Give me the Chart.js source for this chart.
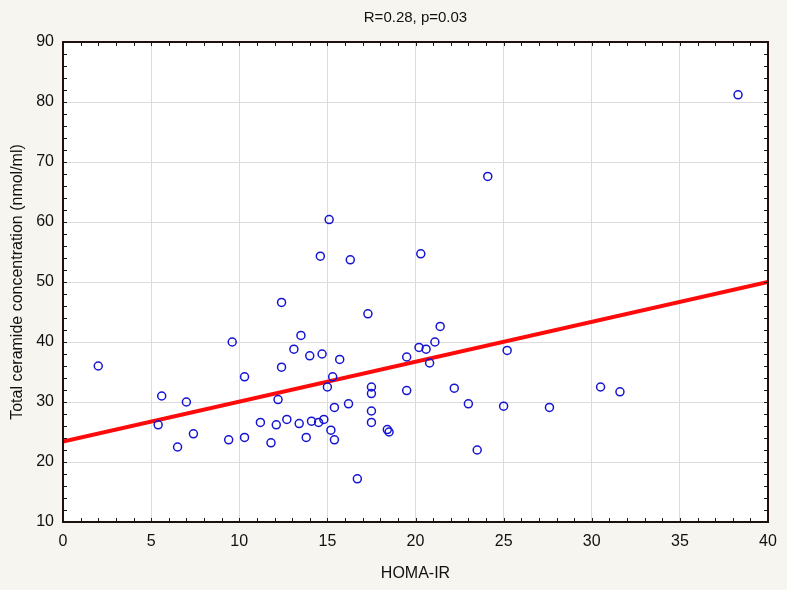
<!DOCTYPE html>
<html>
<head>
<meta charset="utf-8">
<script src="https://cdn.jsdelivr.net/npm/chart.js@4"></script>
<style>
  html, body { margin: 0; padding: 0; background: #f7f5ef; }
  #wrap { width: 787px; height: 590px; }
</style>
</head>
<body>
<div id="wrap"><canvas id="chart" width="787" height="590"></canvas></div>
<script>
const TITLE = 'R=0.28, p=0.03';
const X_LABEL = 'HOMA-IR';
const Y_LABEL = 'Total ceramide concentration (nmol/ml)';

// HOMA-IR values
const homaIR = [
  2.0, 5.6, 5.4, 7.0, 7.4, 6.5, 9.6, 10.3, 9.4, 10.3,
  12.4, 13.5, 13.1, 12.4, 12.2, 11.2, 12.1, 12.7, 13.4, 11.8,
  13.8, 14.0, 14.7, 15.7, 15.3, 15.0, 14.1, 14.5, 14.8, 15.2,
  15.4, 15.4, 16.2, 15.1, 14.6, 16.3, 17.3, 17.5, 17.5, 17.5,
  17.5, 18.4, 18.5, 16.7, 19.5, 19.5, 20.2, 20.6, 20.8, 21.1,
  21.4, 20.3, 24.1, 22.2, 23.0, 23.5, 25.0, 25.2, 27.6, 30.5,
  31.6, 38.3
];
// total ceramide (nmol/ml) for the same subjects
const ceramide = [
  36.0, 31.0, 26.2, 30.0, 24.7, 22.5, 40.0, 34.2, 23.7, 24.1,
  46.6, 41.1, 38.8, 35.8, 30.4, 26.6, 26.2, 27.1, 26.4, 23.2,
  24.1, 37.7, 38.0, 37.1, 34.2, 32.5, 26.8, 26.6, 27.1, 25.3,
  23.7, 29.1, 29.7, 60.4, 54.3, 53.7, 44.7, 32.5, 31.4, 28.5,
  26.6, 25.4, 25.0, 17.2, 37.5, 31.9, 39.1, 38.8, 36.5, 40.0,
  42.6, 54.7, 67.6, 32.3, 29.7, 22.0, 29.3, 38.6, 29.1, 32.5,
  31.7, 81.2
];
// fitted regression line end points
const fitX = [0, 40];
const fitY = [23.4, 50.0];

const xTicks = [0, 5, 10, 15, 20, 25, 30, 35, 40];
const yTicks = [10, 20, 30, 40, 50, 60, 70, 80, 90];

const FONT = 'Liberation Sans, Arial, sans-serif';

const framePlugin = {
  id: 'frame',
  beforeDraw(chart) {
    const { ctx, chartArea: a } = chart;
    ctx.save();
    ctx.fillStyle = '#f7f5ef';
    ctx.fillRect(0, 0, chart.width, chart.height);
    ctx.fillStyle = '#ffffff';
    ctx.fillRect(a.left, a.top, a.right - a.left, a.bottom - a.top);
    ctx.restore();
  },
  afterDraw(chart) {
    const { ctx, chartArea: a, scales } = chart;
    const xs = scales.x, ys = scales.y;
    ctx.save();
    ctx.strokeStyle = '#1a1a1a';
    ctx.lineWidth = 1;
    // minor ticks, inside the frame
    ctx.beginPath();
    for (let v = 0; v <= 40; v += 1) {
      const px = Math.round(xs.getPixelForValue(v)) + 0.5;
      ctx.moveTo(px, a.bottom); ctx.lineTo(px, a.bottom - 4);
      ctx.moveTo(px, a.top); ctx.lineTo(px, a.top + 4);
    }
    for (let v = 10; v <= 90; v += 2) {
      const py = Math.round(ys.getPixelForValue(v)) + 0.5;
      ctx.moveTo(a.left, py); ctx.lineTo(a.left + 4, py);
      ctx.moveTo(a.right, py); ctx.lineTo(a.right - 4, py);
    }
    ctx.stroke();
    ctx.lineWidth = 2;
    ctx.strokeStyle = '#1f1010';
    ctx.strokeRect(a.left, a.top, a.right - a.left, a.bottom - a.top);
    // title
    ctx.fillStyle = '#111';
    ctx.font = '15px ' + FONT;
    ctx.textAlign = 'center';
    ctx.textBaseline = 'middle';
    ctx.fillText(TITLE, (a.left + a.right) / 2, 18);
    ctx.restore();
  }
};

new Chart(document.getElementById('chart'), {
  type: 'scatter',
  data: {
    datasets: [
      {
        label: 'data',
        data: homaIR.map((x, i) => ({ x: x, y: ceramide[i] })),
        pointStyle: 'circle',
        pointRadius: 4,
        pointHoverRadius: 4,
        borderColor: '#1414d2',
        backgroundColor: 'rgba(0,0,0,0)',
        borderWidth: 1.5
      },
      {
        type: 'line',
        label: 'fit',
        data: fitX.map((x, i) => ({ x: x, y: fitY[i] })),
        borderColor: '#ff0a0a',
        borderWidth: 4,
        pointRadius: 0,
        fill: false
      }
    ]
  },
  options: {
    responsive: false,
    animation: false,
    layout: { padding: { top: 42, right: 19, left: 0, bottom: 0 } },
    plugins: {
      legend: { display: false },
      tooltip: { enabled: false }
    },
    scales: {
      x: {
        type: 'linear',
        min: 0, max: 40,
        afterBuildTicks: s => { s.ticks = xTicks.map(v => ({ value: v })); },
        afterFit: s => { s.height = 68; },
        grid: { color: '#dcdcdc', lineWidth: 1, drawTicks: false },
        border: { display: false },
        ticks: { color: '#111', padding: 10, font: { family: FONT, size: 16 } },
        title: { display: true, text: X_LABEL, color: '#111', padding: { top: 0, bottom: 7 }, font: { family: FONT, size: 16 } }
      },
      y: {
        type: 'linear',
        min: 10, max: 90,
        afterBuildTicks: s => { s.ticks = yTicks.map(v => ({ value: v })); },
        afterFit: s => { s.width = 63; },
        grid: { color: '#dcdcdc', lineWidth: 1, drawTicks: false },
        border: { display: false },
        ticks: { color: '#111', padding: 9, font: { family: FONT, size: 16 } },
        title: { display: true, text: Y_LABEL, color: '#111', padding: { top: 8, bottom: 0 }, font: { family: FONT, size: 16 } }
      }
    }
  },
  plugins: [framePlugin]
});
</script>
</body>
</html>
